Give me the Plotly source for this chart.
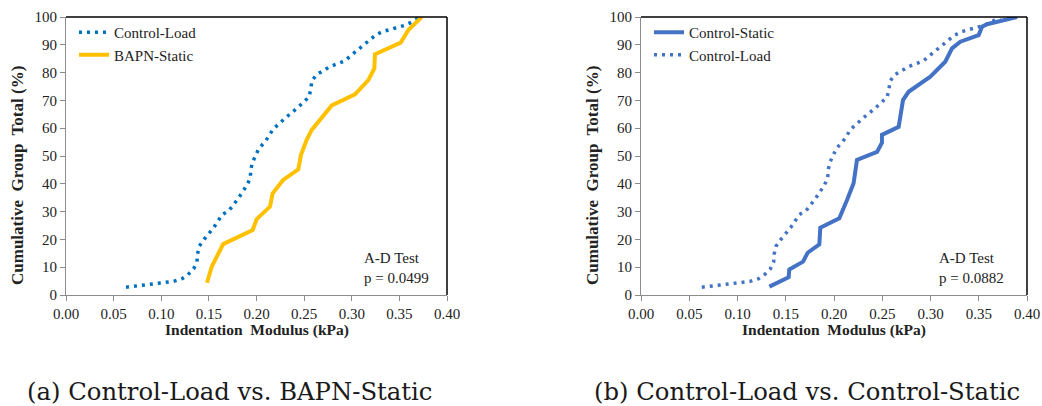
import plotly.graph_objects as go

# ---- data ----
ctrl_load_x = [0.063, 0.097, 0.113, 0.122, 0.128, 0.134, 0.1375, 0.138, 0.140, 0.145, 0.155, 0.164, 0.171, 0.181,
               0.190, 0.1935, 0.194, 0.1956, 0.199, 0.2026, 0.209, 0.2176, 0.230, 0.2433, 0.255, 0.257, 0.258,
               0.2625, 0.2768, 0.2926, 0.299, 0.3118, 0.3247, 0.332, 0.3486, 0.3566, 0.3636, 0.372]
ctrl_load_y = [2.8, 4.2, 4.9, 5.9, 7.3, 9.4, 11.9, 14.7, 17.6, 20.0, 24.2, 28.9, 30.3, 34.8,
               39.5, 42.1, 45.0, 47.6, 50.3, 52.8, 55.1, 59.7, 63.6, 67.4, 71.2, 74.0, 76.9,
               79.1, 82.1, 84.2, 86.1, 89.8, 93.4, 94.7, 96.3, 97.1, 98.3, 100.0]

bapn_static_x = [0.148, 0.153, 0.165, 0.196, 0.2002, 0.2142, 0.217, 0.228, 0.2439, 0.2467, 0.2527, 0.258,
                 0.279, 0.3034, 0.3174, 0.3237, 0.3244, 0.3514, 0.3594, 0.3734]
bapn_static_y = [4.4, 10.2, 18.3, 23.4, 27.3, 31.8, 36.6, 41.4, 45.2, 50.4, 55.8, 59.4,
                 68.2, 72.2, 77.3, 81.5, 86.6, 90.8, 95.3, 100.0]

ctrl_static_x = [0.133, 0.153, 0.1537, 0.1679, 0.1727, 0.1848, 0.1858, 0.2055, 0.2135, 0.2203, 0.2238,
                 0.2446, 0.2497, 0.2497, 0.267, 0.2715, 0.2773, 0.2998, 0.3153, 0.3223, 0.3309, 0.3499,
                 0.3534, 0.3585, 0.3896]
ctrl_static_y = [3.0, 6.4, 9.2, 12.0, 15.2, 18.2, 24.2, 27.6, 34.2, 40.2, 48.6,
                 51.5, 54.8, 57.6, 60.5, 70.1, 73.1, 78.5, 83.9, 88.7, 91.1, 93.5,
                 96.5, 97.4, 100.0]

x_ticks = [0.00, 0.05, 0.10, 0.15, 0.20, 0.25, 0.30, 0.35, 0.40]
y_ticks = [0, 10, 20, 30, 40, 50, 60, 70, 80, 90, 100]
p_values = ["0.0499", "0.0882"]
captions = ["(a) Control-Load vs. BAPN-Static", "(b) Control-Load vs. Control-Static"]

# ---- layout geometry (page pixels; body margin removed in the page) ----
W, H = 1042, 406
TOP, BOT = 17, 295
L1, R1 = 66, 447
L2, R2 = 641, 1027

def px(x):
    return x / W

def py(y):
    return (H - y) / H

SERIF = "Liberation Serif"
CAP_FONT = "DejaVu Serif"
AX_COL = "#8c8c8c"
TXT = "#222222"

fig = go.Figure()

fig.add_trace(go.Scatter(x=ctrl_load_x, y=ctrl_load_y, mode="lines", name="Control-Load",
                         line=dict(color="#0070C0", width=3.5, dash="3px,5px"),
                         xaxis="x", yaxis="y", legend="legend"))
fig.add_trace(go.Scatter(x=bapn_static_x, y=bapn_static_y, mode="lines", name="BAPN-Static",
                         line=dict(color="#FFC000", width=4),
                         xaxis="x", yaxis="y", legend="legend"))
fig.add_trace(go.Scatter(x=ctrl_static_x, y=ctrl_static_y, mode="lines", name="Control-Static",
                         line=dict(color="#4472C4", width=4),
                         xaxis="x2", yaxis="y2", legend="legend2"))
fig.add_trace(go.Scatter(x=ctrl_load_x, y=ctrl_load_y, mode="lines", name="Control-Load",
                         line=dict(color="#4472C4", width=3.5, dash="3px,5px"),
                         xaxis="x2", yaxis="y2", legend="legend2"))

axis_common = dict(showgrid=False, zeroline=False, showline=True, linecolor=AX_COL, linewidth=1,
                   ticks="outside", ticklen=5, tickcolor=AX_COL, tickwidth=1, automargin=False,
                   tickfont=dict(family=SERIF, size=15, color=TXT))

ydom = [py(BOT), py(TOP)]
leg_common = dict(xanchor="left", yanchor="top", bgcolor="rgba(0,0,0,0)",
                  font=dict(family=SERIF, size=15, color=TXT), tracegroupgap=0, itemwidth=30)
fig.update_layout(
    width=W, height=H, margin=dict(l=0, r=0, t=0, b=0, autoexpand=False),
    paper_bgcolor="white", plot_bgcolor="white",
    xaxis=dict(domain=[px(L1), px(R1)], range=[0, 0.4], tickvals=x_ticks, tickformat=".2f",
               anchor="y", **axis_common),
    yaxis=dict(domain=ydom, range=[0, 100], tickvals=y_ticks, anchor="x", **axis_common),
    xaxis2=dict(domain=[px(L2), px(R2)], range=[0, 0.4], tickvals=x_ticks, tickformat=".2f",
                anchor="y2", **axis_common),
    yaxis2=dict(domain=ydom, range=[0, 100], tickvals=y_ticks, anchor="x2", **axis_common),
    legend=dict(x=px(74), y=py(16), **leg_common),
    legend2=dict(x=px(649), y=py(16), **leg_common),
    showlegend=True,
)

shapes = []
annotations = []
for (L, R, pv, cap) in [(L1, R1, p_values[0], captions[0]),
                        (L2, R2, p_values[1], captions[1])]:
    # black top and right frame
    shapes.append(dict(type="line", xref="paper", yref="paper", x0=px(L), x1=px(R), y0=py(TOP), y1=py(TOP),
                       line=dict(color="black", width=1.5)))
    shapes.append(dict(type="line", xref="paper", yref="paper", x0=px(R), x1=px(R), y0=py(TOP), y1=py(BOT),
                       line=dict(color="black", width=1.5)))
    annotations.append(dict(text="<b>Indentation  Modulus (kPa)</b>", xref="paper", yref="paper",
                            x=px((L + R) / 2), y=py(330), xanchor="center", yanchor="middle",
                            showarrow=False, font=dict(family=SERIF, size=15.5, color=TXT)))
    annotations.append(dict(text="<b>Cumulative  Group  Total (%)</b>", xref="paper", yref="paper",
                            x=px(L - 49), y=py((TOP + BOT) / 2 + 20), xanchor="center", yanchor="middle",
                            textangle=-90, showarrow=False, font=dict(family=SERIF, size=17, color=TXT)))
    annotations.append(dict(text="A-D Test<br>p = " + pv, xref="paper", yref="paper", align="left",
                            x=px(L + 296), y=py(268), xanchor="left", yanchor="middle", showarrow=False,
                            font=dict(family=SERIF, size=15, color=TXT)))
    annotations.append(dict(text=cap, xref="paper", yref="paper",
                            x=px((L + R) / 2 - 27), y=py(391), xanchor="center", yanchor="middle",
                            showarrow=False, font=dict(family=CAP_FONT, size=24.3, color="#1a1a1a")))

fig.update_layout(shapes=shapes, annotations=annotations)
fig.write_html("out.html", config={"displayModeBar": False},
               post_script="document.body.style.margin='0px';document.body.style.overflow='hidden';")
